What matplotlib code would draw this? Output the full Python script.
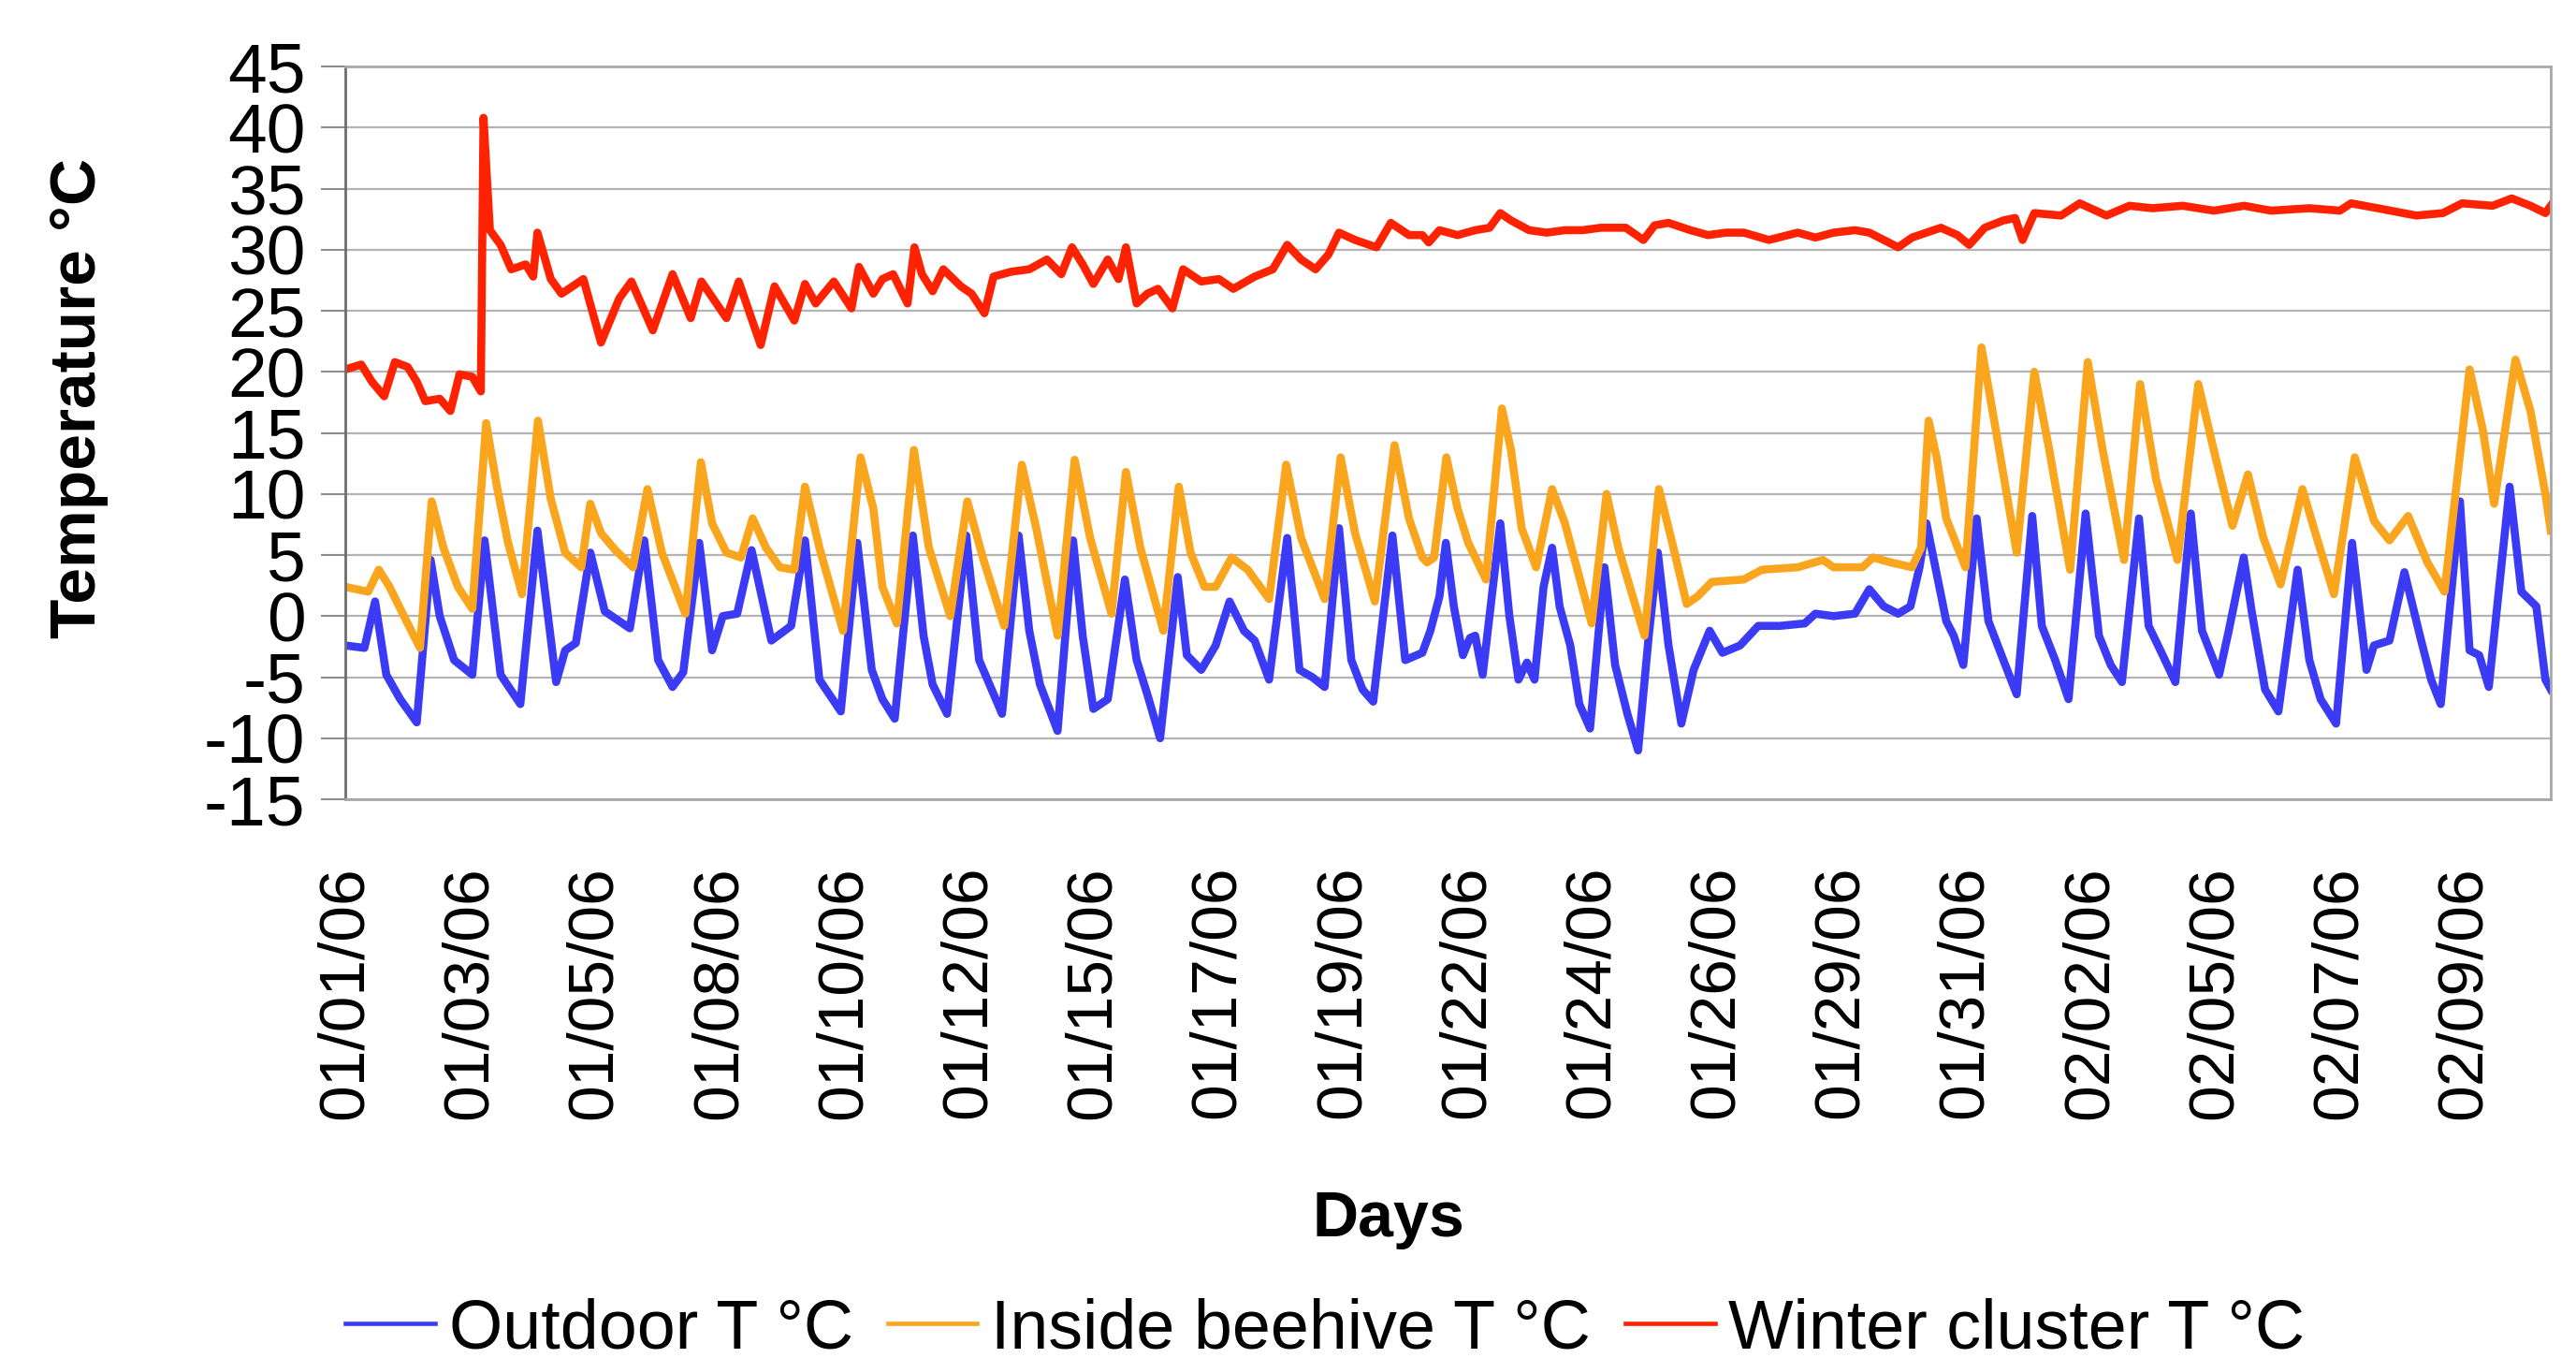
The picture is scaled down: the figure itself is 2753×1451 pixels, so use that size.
import matplotlib
matplotlib.use('Agg')
import matplotlib.pyplot as plt

plt.rcParams['font.family'] = ['Liberation Sans', 'DejaVu Sans']
plt.rcParams['axes.unicode_minus'] = False

# x axis labels (one every 56 hourly samples = 7/3 days)
tick_labels = ['01/01/06', '01/03/06', '01/05/06', '01/08/06', '01/10/06', '01/12/06',
               '01/15/06', '01/17/06', '01/19/06', '01/22/06', '01/24/06', '01/26/06',
               '01/29/06', '01/31/06', '02/02/06', '02/05/06', '02/07/06', '02/09/06']

# days since 01/01/06 00:00, temperatures
outdoor_day = [0.00, 0.36, 0.56, 0.77, 1.03, 1.34, 1.60, 1.77, 2.04, 2.38, 2.61, 2.91, 3.28, 3.60,
               3.95, 4.12, 4.32, 4.59, 4.86, 5.33, 5.60, 5.86, 6.13, 6.33, 6.63, 6.87, 7.07, 7.34,
               7.61, 7.98, 8.35, 8.61, 8.88, 9.28, 9.59,
               9.86, 10.06, 10.29, 10.63, 10.83, 11.00, 11.27, 11.63, 11.87, 12.30, 12.61, 12.81,
               13.01, 13.34, 13.63, 13.81, 14.01, 14.28, 14.60, 14.82, 15.02, 15.26, 15.59, 15.76,
               16.03, 16.30, 16.56, 16.83, 17.03, 17.30, 17.64, 17.87, 18.11, 18.34, 18.61, 18.84,
               19.05, 19.25, 19.61, 19.85, 20.17,
               20.32, 20.49, 20.61, 20.76, 20.93, 21.06, 21.16, 21.30, 21.63, 21.80, 21.97, 22.13,
               22.27, 22.44, 22.60, 22.74, 22.94, 23.11, 23.31, 23.58, 23.78, 24.01, 24.21, 24.41,
               24.58, 24.78, 25.02, 25.25, 25.55, 25.79, 26.12, 26.46, 26.86, 27.33, 27.53, 27.87,
               28.27, 28.54, 28.81, 29.08, 29.31, 29.48, 29.61,
               29.98, 30.12, 30.30, 30.55, 30.77, 31.05, 31.30, 31.59, 31.77, 32.02, 32.27, 32.59,
               32.84, 33.06, 33.27, 33.59, 33.77, 33.99, 34.27, 34.56, 34.77, 35.09, 35.27, 35.55,
               35.70, 35.95, 36.20, 36.56, 36.78, 36.99, 37.28, 37.58, 37.85, 37.99, 38.28, 38.56,
               38.85, 39.06, 39.24, 39.60, 39.78, 39.96, 40.14, 40.53, 40.75, 41.03, 41.20, 41.30]
outdoor_temp = [-2.4, -2.6, 1.2, -4.8, -6.8, -8.7, 4.6, 0.0, -3.6, -4.8, 6.2, -4.8, -7.2, 7.0,
                -5.4, -2.8, -2.2, 5.2, 0.4, -1.0, 6.2, -3.6, -5.8, -4.6, 6.0, -2.8, 0.0, 0.2,
                5.4, -2.0, -0.8, 6.2, -5.2, -7.8, 6.0,
                -4.4, -6.8, -8.4, 6.6, -1.6, -5.6, -8.0, 6.6, -3.6, -8.0, 6.6, -1.2,
                -5.6, -9.4, 6.2, -1.6, -7.6, -6.8, 3.0, -3.6, -6.4, -10.0, 3.2, -3.2,
                -4.4, -2.4, 1.2, -1.2, -2.0, -5.2, 6.4, -4.4, -5.0, -5.8, 7.2, -3.6,
                -6.0, -7.0, 6.6, -3.6, -3.0,
                -1.2, 1.6, 6.0, 0.8, -3.2, -1.8, -1.6, -4.8, 7.6, 0.0, -5.2, -3.8,
                -5.2, 2.4, 5.6, 0.8, -2.4, -7.2, -9.2, 4.0, -4.0, -8.0, -11.0, -1.6,
                5.2, -2.4, -8.8, -4.4, -1.2, -3.0, -2.4, -0.8, -0.8, -0.6, 0.2, 0.0,
                0.2, 2.2, 0.8, 0.2, 0.8, 4.0, 7.6,
                -0.4, -1.6, -4.0, 8.0, -0.4, -3.6, -6.4, 8.2, -0.8, -3.6, -6.8, 8.4,
                -1.6, -4.0, -5.4, 8.0, -0.8, -2.8, -5.4, 8.4, -1.2, -4.8, -1.2, 4.8,
                0.4, -6.0, -7.8, 3.8, -3.6, -6.8, -8.8, 6.0, -4.4, -2.4, -2.0, 3.6,
                -1.6, -5.2, -7.2, 9.4, -2.8, -3.2, -5.8, 10.6, 2.0, 0.8, -5.2, -6.0]

inside_day = [0.00, 0.43, 0.63, 0.83, 1.10, 1.40, 1.62, 1.84, 2.11, 2.38, 2.64, 2.85, 3.05, 3.31,
              3.61, 3.85, 4.12, 4.42, 4.59, 4.79, 5.06, 5.39, 5.66, 5.93, 6.37, 6.66, 6.87, 7.14,
              7.41, 7.63, 7.88, 8.14, 8.41, 8.61, 8.88, 9.32, 9.65, 9.89,
              10.06, 10.33, 10.65, 10.93, 11.33, 11.65, 11.94, 12.34, 12.67, 12.94, 13.34, 13.66,
              13.95, 14.35, 14.62, 14.89, 15.32, 15.61, 15.83, 16.09, 16.30, 16.60, 16.90, 17.30,
              17.62, 17.90, 18.34, 18.64, 18.91, 19.28, 19.65, 19.92, 20.17,
              20.26, 20.39, 20.62, 20.83, 21.03, 21.36, 21.66, 21.83, 22.03, 22.30, 22.60, 22.84,
              23.11, 23.34, 23.62, 23.84, 24.11, 24.33, 24.60, 24.85, 25.12, 25.32, 25.59, 26.19,
              26.53, 27.20, 27.67, 27.87, 28.41, 28.61, 28.94, 29.34, 29.51, 29.65, 29.81,
              29.98, 30.34, 30.64, 30.91, 31.30, 31.63, 31.91, 32.30, 32.63, 32.91, 33.31, 33.61,
              33.91, 34.31, 34.70, 34.99, 35.34, 35.63, 35.92, 36.24, 36.65, 36.92, 37.24, 37.63,
              37.99, 38.28, 38.63, 38.99, 39.31, 39.78, 40.03, 40.24, 40.64, 40.92, 41.20, 41.30]
inside_temp = [2.4, 2.0, 3.8, 2.4, 0.0, -2.6, 9.4, 5.6, 2.4, 0.6, 15.8, 10.4, 6.0, 1.8,
               16.0, 9.6, 5.2, 4.0, 9.2, 6.8, 5.4, 4.0, 10.4, 5.2, 0.2, 12.6, 7.6, 5.2,
               4.8, 8.0, 5.6, 4.0, 3.8, 10.6, 5.6, -1.2, 13.0, 8.8,
               2.4, -0.6, 13.6, 5.6, 0.0, 9.4, 4.8, -0.8, 12.4, 7.2, -1.6, 12.8,
               6.4, 0.2, 11.8, 5.6, -1.2, 10.6, 5.2, 2.4, 2.4, 4.8, 3.8, 1.4,
               12.4, 6.4, 1.4, 13.0, 6.8, 1.2, 14.0, 8.0, 4.8,
               4.4, 4.8, 13.0, 8.8, 6.0, 3.0, 17.0, 13.6, 7.2, 4.0, 10.4, 7.6,
               3.2, -0.6, 10.0, 5.6, 1.6, -1.6, 10.4, 6.0, 1.0, 1.6, 2.8, 3.0,
               3.8, 4.0, 4.6, 4.0, 4.0, 4.8, 4.4, 4.0, 5.6, 16.0, 12.8,
               8.0, 4.0, 22.0, 15.2, 5.2, 20.0, 13.6, 3.8, 20.8, 13.6, 4.6, 19.0,
               11.2, 4.6, 19.0, 13.6, 7.4, 11.6, 6.4, 2.6, 10.4, 6.4, 1.8, 13.0,
               7.8, 6.2, 8.2, 4.4, 2.0, 20.2, 15.2, 9.2, 21.0, 16.8, 10.0, 7.0]

cluster_day = [0.00, 0.30, 0.50, 0.73, 0.93, 1.17, 1.34, 1.50, 1.77, 1.97, 2.14, 2.38, 2.54, 2.59,
               2.71, 2.91, 3.11, 3.38, 3.52, 3.60, 3.85, 4.05, 4.19, 4.46, 4.79, 5.13, 5.36, 5.76,
               6.13, 6.47, 6.67, 7.14, 7.37, 7.78, 8.04, 8.41, 8.61, 8.81, 9.15, 9.48, 9.62, 9.89,
               10.06, 10.26, 10.53, 10.66, 10.80, 11.00, 11.20, 11.53, 11.73, 11.97, 12.14, 12.47,
               12.81, 13.14, 13.41, 13.61, 13.81, 14.01, 14.28, 14.48, 14.62, 14.82, 15.02, 15.22,
               15.49, 15.69, 16.03, 16.36, 16.63, 17.03, 17.37, 17.64, 17.90, 18.17, 18.41, 18.61,
               18.91, 19.31, 19.58, 19.92, 20.17,
               20.29, 20.49, 20.83, 21.16, 21.43, 21.63, 21.83, 22.17, 22.50, 22.84, 23.17, 23.51,
               23.98, 24.31, 24.52, 24.78, 25.19, 25.52, 25.86, 26.19, 26.66, 27.20, 27.53, 27.87,
               28.27, 28.54, 28.81, 29.08, 29.34, 29.61, 29.88,
               29.98, 30.19, 30.41, 30.70, 31.05, 31.27, 31.41, 31.63, 32.13, 32.48, 32.98, 33.41,
               33.84, 34.41, 34.99, 35.56, 36.06, 36.78, 37.35, 37.56, 38.06, 38.78, 39.28, 39.64,
               40.21, 40.57, 40.92, 41.20, 41.30]
cluster_temp = [20.2, 20.6, 19.2, 18.0, 20.8, 20.4, 19.2, 17.6, 17.8, 16.8, 19.8, 19.6, 18.4, 40.8,
                31.6, 30.4, 28.4, 28.8, 27.8, 31.4, 27.6, 26.4, 26.8, 27.6, 22.4, 26.0, 27.4, 23.4,
                28.0, 24.4, 27.4, 24.4, 27.4, 22.2, 27.0, 24.2, 27.2, 25.6, 27.4, 25.2, 28.6, 26.4,
                27.6, 28.0, 25.6, 30.2, 28.0, 26.6, 28.4, 27.0, 26.4, 24.8, 27.8, 28.2,
                28.4, 29.2, 28.0, 30.2, 28.8, 27.2, 29.2, 27.6, 30.2, 25.6, 26.4, 26.8,
                25.2, 28.4, 27.4, 27.6, 26.8, 27.8, 28.4, 30.4, 29.2, 28.4, 29.6, 31.4,
                30.8, 30.2, 32.2, 31.2, 31.2,
                30.6, 31.6, 31.2, 31.6, 31.8, 33.0, 32.4, 31.6, 31.4, 31.6, 31.6, 31.8,
                31.8, 30.8, 32.0, 32.2, 31.6, 31.2, 31.4, 31.4, 30.8, 31.4, 31.0, 31.4,
                31.6, 31.4, 30.8, 30.2, 31.0, 31.4, 31.8,
                31.6, 31.2, 30.4, 31.8, 32.4, 32.6, 30.8, 33.0, 32.8, 33.8, 32.8, 33.6,
                33.4, 33.6, 33.2, 33.6, 33.2, 33.4, 33.2, 33.8, 33.4, 32.8, 33.0, 33.8,
                33.6, 34.2, 33.6, 33.0, 33.6]

fig = plt.figure(figsize=(27.53, 14.51), dpi=100)
ax = fig.add_axes([0.134, 0.4114, 0.8562, 0.5396])

ax.plot(outdoor_day, outdoor_temp, color='#3b3bf5', lw=6.2, solid_joinstyle='round', label='Outdoor T °C')
ax.plot(inside_day, inside_temp, color='#f9a51e', lw=6.2, solid_joinstyle='round', label='Inside beehive T °C')
ax.plot(cluster_day, cluster_temp, color='#ff2200', lw=6.2, solid_joinstyle='round', label='Winter cluster T °C')

ax.set_xlim(0, 41.3)
ax.set_ylim(-15, 45)
ax.set_yticks(range(-15, 50, 5))
ax.set_xticks([k * 7 / 3 for k in range(len(tick_labels))])
ax.set_xticklabels(tick_labels, rotation=90, fontsize=50)
ax.tick_params(axis='x', length=0, pad=51)
ax.tick_params(axis='y', length=18.7, width=1.5, color='#8c8c8c', pad=12)
for lab in ax.get_yticklabels():
    lab.set_family(['Liberation Sans Narrow', 'Liberation Sans'])
    lab.set_fontsize(54)
ax.grid(axis='y', color='#b4b4b4', lw=1.6)
ax.set_axisbelow(True)
for s in ['top', 'right', 'bottom']:
    ax.spines[s].set_color('#a8a8a8')
    ax.spines[s].set_linewidth(2)
ax.spines['left'].set_color('#6e6e6e')
ax.spines['left'].set_linewidth(2)

fig.text(0.0305, 0.707, 'Temperature °C', rotation=90, ha='center', va='center',
         fontsize=50, fontweight='bold')
fig.text(0.539, 0.102, 'Days', ha='center', va='center', fontsize=49, fontweight='bold')

leg = fig.legend(loc='center', bbox_to_anchor=(0.5145, 0.021), ncol=3, frameon=False,
                 fontsize=53, handlelength=1.3, handletextpad=0.2, columnspacing=0.5,
                 borderpad=0.1)
for line in leg.get_lines():
    line.set_linewidth(3.3)

fig.savefig('out.png', dpi=100)
